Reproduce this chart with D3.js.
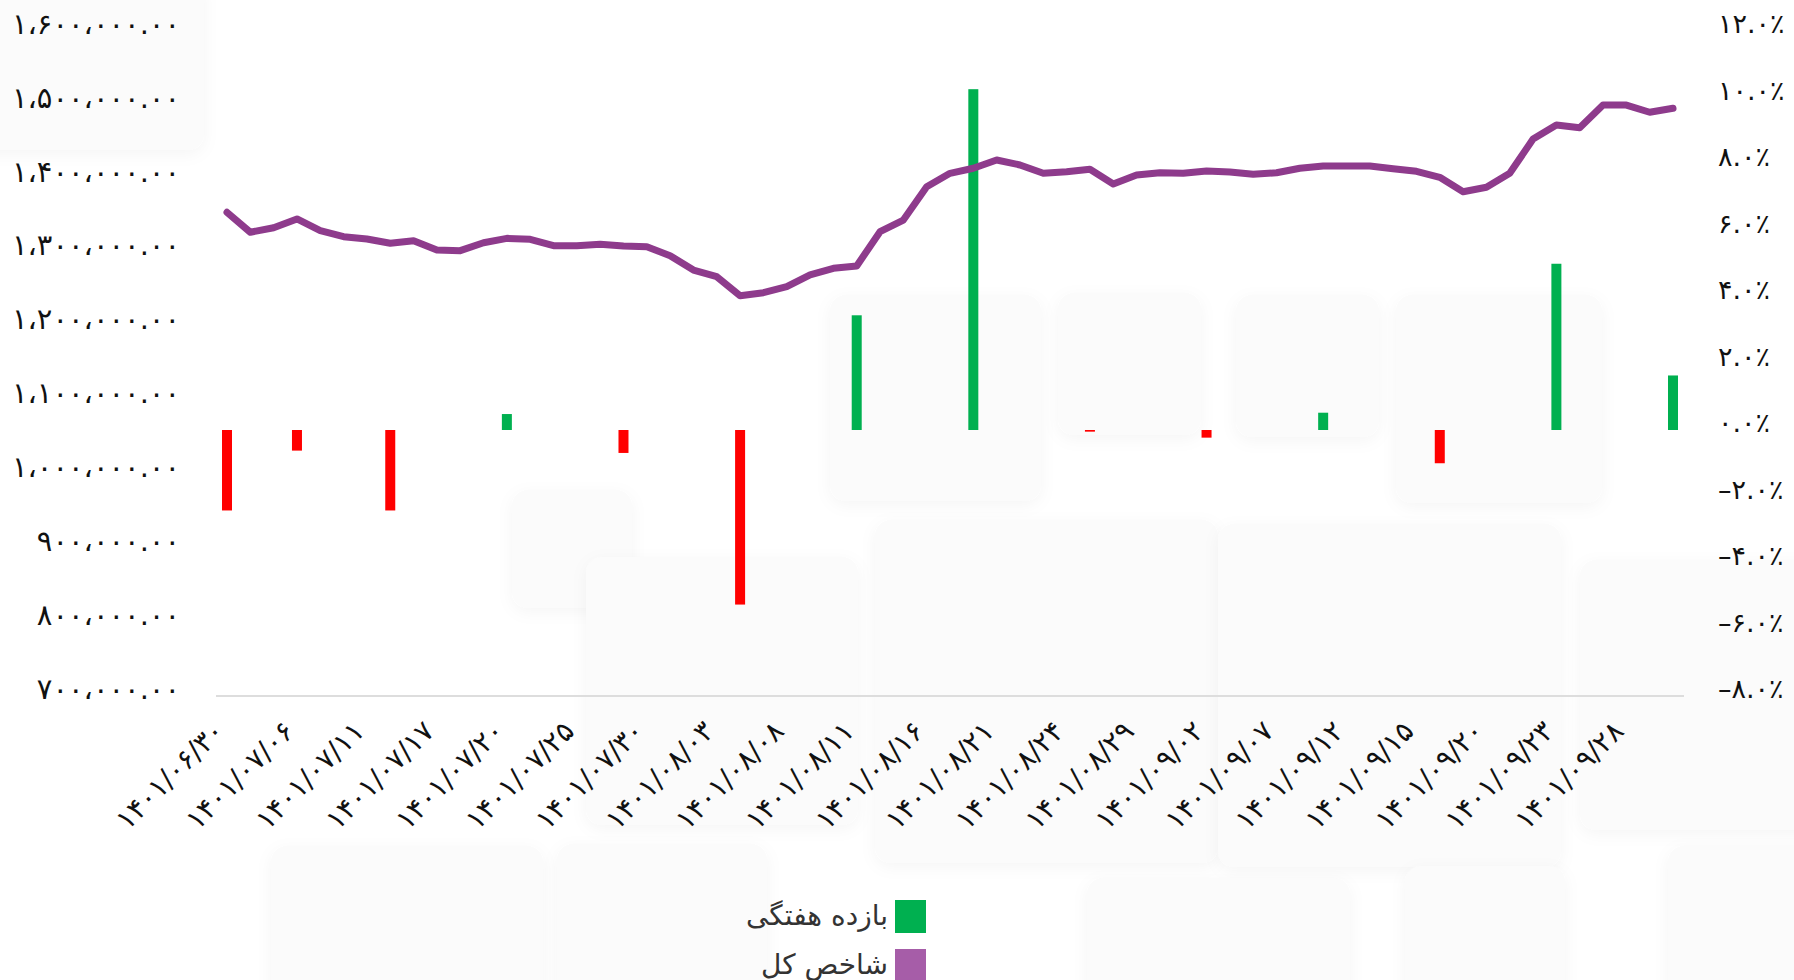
<!DOCTYPE html>
<html>
<head>
  <meta charset="UTF-8">
  <title>شاخص کل و بازده هفتگی</title>
  <style>
    body { margin: 0; background-color: #ffffff; }
    svg { display: block; font-family: "DejaVu Sans", sans-serif; }
  </style>
</head>
<body>
<svg></svg>
<script src="https://d3js.org/d3.v7.min.js"></script>

<script>

let width = 1794, height = 980;

// tick labels on the x axis (every 3rd trading day)
let tickLabels = ["1401/06/30", "1401/07/06", "1401/07/11", "1401/07/17", "1401/07/20", "1401/07/25",
  "1401/07/30", "1401/08/03", "1401/08/08", "1401/08/11", "1401/08/16", "1401/08/21", "1401/08/24",
  "1401/08/29", "1401/09/02", "1401/09/07", "1401/09/12", "1401/09/15", "1401/09/20", "1401/09/23",
  "1401/09/28"];

// total index (شاخص کل), one value per trading day
let indexValues = [1354600, 1327600, 1333800, 1345600, 1329700, 1321600, 1318500, 1312700, 1316200,
  1303600, 1302700, 1313500, 1319400, 1318100, 1309400, 1309400, 1311300, 1309000, 1308100, 1295900,
  1276500, 1267500, 1241800, 1245800, 1253900, 1269800, 1278800, 1282000, 1328400, 1344200, 1389300,
  1407400, 1414200, 1425400, 1418700, 1407400, 1409600, 1412800, 1392900, 1405100, 1408200, 1407400,
  1410500, 1409200, 1406100, 1408200, 1414200, 1417300, 1417300, 1417300, 1413600, 1410100, 1402000,
  1382500, 1388500, 1407400, 1453800, 1472800, 1469100, 1499800, 1499800, 1490000, 1495400];

// weekly return (بازده هفتگی) in percent, and the trading day it belongs to
let weekDay = [0, 3, 7, 12, 17, 22, 27, 32, 37, 42, 47, 52, 57, 62];
let weekReturn = [-2.42, -0.62, -2.42, 0.48, -0.69, -5.25, 3.45, 10.25, -0.05, -0.23, 0.52, -1.0, 5.0, 1.64];

let leftTicks = d3.range(700000, 1600001, 100000);
let rightTicks = d3.range(-8, 12.1, 2);

let legendItems = ["بازده هفتگی", "شاخص کل"];
let legendColors = ["#00b050", "#a65da8"];

// persian digits
const fa = s => s.replace(/\d/g, d => "۰۱۲۳۴۵۶۷۸۹"[d]);

let svg = d3.select("svg")
    .attr("width", width)
    .attr("height", height)
    .attr("viewBox", "0 0 " + width + " " + height);

// faint background cards behind the chart
let defs = svg.append("defs");
defs.append("filter").attr("id", "soft")
    .attr("x", "-20%").attr("y", "-20%").attr("width", "140%").attr("height", "140%")
  .append("feDropShadow")
    .attr("dx", 0).attr("dy", 4).attr("stdDeviation", 8)
    .attr("flood-color", "#000").attr("flood-opacity", 0.04);

let cards = [[-20, -20, 224, 170], [512, 490, 120, 118], [586, 557, 272, 268], [875, 520, 343, 343],
  [1218, 524, 343, 343], [830, 295, 211, 206], [1058, 293, 143, 142], [1236, 295, 143, 142],
  [1396, 295, 206, 208], [1580, 560, 240, 270], [271, 846, 272, 160], [557, 844, 210, 160],
  [1087, 878, 263, 130], [1668, 846, 160, 160], [1405, 866, 160, 140]];
svg.append("g").selectAll("rect").data(cards).join("rect")
    .attr("x", d => d[0]).attr("y", d => d[1])
    .attr("width", d => d[2]).attr("height", d => d[3])
    .attr("rx", 16)
    .attr("fill", "#fbfbfb")
    .attr("filter", "url(#soft)");

let x = d3.scaleLinear().domain([0, indexValues.length - 1]).range([227, 1673]);
let yLeft = d3.scaleLinear().domain([700000, 1600000]).range([696, 31]);
let yRight = d3.scaleLinear().domain([-8, 12]).range([696, 31]);

// bottom axis line
svg.append("line")
    .attr("x1", 216).attr("x2", 1684)
    .attr("y1", 696).attr("y2", 696)
    .attr("stroke", "#dddddd")
    .attr("stroke-width", 2);

// left axis
let fmtLeft = d3.format(",.2f");
svg.append("g")
    .attr("transform", "translate(180,0)")
    .call(d3.axisLeft(yLeft).tickValues(leftTicks).tickSize(0).tickPadding(0)
      .tickFormat(d => fa(fmtLeft(d)).replace(/,/g, "،")))
    .call(g => g.select(".domain").remove())
    .selectAll("text")
      .attr("font-family", "DejaVu Sans")
      .attr("font-size", 29)
      .attr("fill", "#111")
      .attr("y", -7);

// right axis
let fmtRight = d3.format(".1f");
svg.append("g")
    .attr("transform", "translate(1718,0)")
    .call(d3.axisRight(yRight).tickValues(rightTicks).tickSize(0).tickPadding(0)
      .tickFormat(d => fa(fmtRight(d)).replace(/[-−]/, "–") + "٪"))
    .call(g => g.select(".domain").remove())
    .selectAll("text")
      .attr("font-family", "DejaVu Sans")
      .attr("font-size", 27)
      .attr("fill", "#111")
      .attr("y", -7);

// x tick labels, rotated
svg.append("g").selectAll("text")
    .data(tickLabels)
    .join("text")
    .attr("transform", (d, i) => "translate(" + (x(i * 3) - 8) + ",726) rotate(-45)")
    .attr("text-anchor", "end")
    .attr("dy", "0.35em")
    .attr("font-size", 28)
    .attr("fill", "#111")
    .text(d => fa(d));

// weekly return bars
svg.append("g").selectAll("rect")
    .data(weekReturn)
    .join("rect")
    .attr("x", (d, i) => x(weekDay[i]) - 5)
    .attr("width", 10)
    .attr("y", d => Math.min(yRight(d), yRight(0)))
    .attr("height", d => Math.abs(yRight(d) - yRight(0)))
    .attr("fill", d => d >= 0 ? "#00b050" : "#ff0000");

// total index line
svg.append("path")
    .datum(indexValues)
    .attr("fill", "none")
    .attr("stroke", "#8e3b8c")
    .attr("stroke-width", 7)
    .attr("stroke-linejoin", "round")
    .attr("stroke-linecap", "round")
    .attr("d", d3.line().x((d, i) => x(i)).y(d => yLeft(d)));

// legend
let legend = svg.append("g").selectAll("g")
    .data(legendItems)
    .join("g")
    .attr("transform", (d, i) => "translate(895," + (900 + i * 49) + ")");
legend.append("rect")
    .attr("width", 31).attr("height", 33)
    .attr("fill", (d, i) => legendColors[i]);
legend.append("text")
    .attr("x", -7).attr("y", 15)
    .attr("dy", "0.35em")
    .attr("text-anchor", "end")
    .attr("font-size", 28)
    .attr("fill", "#333")
    .text(d => d);

</script>

</body>
</html>
